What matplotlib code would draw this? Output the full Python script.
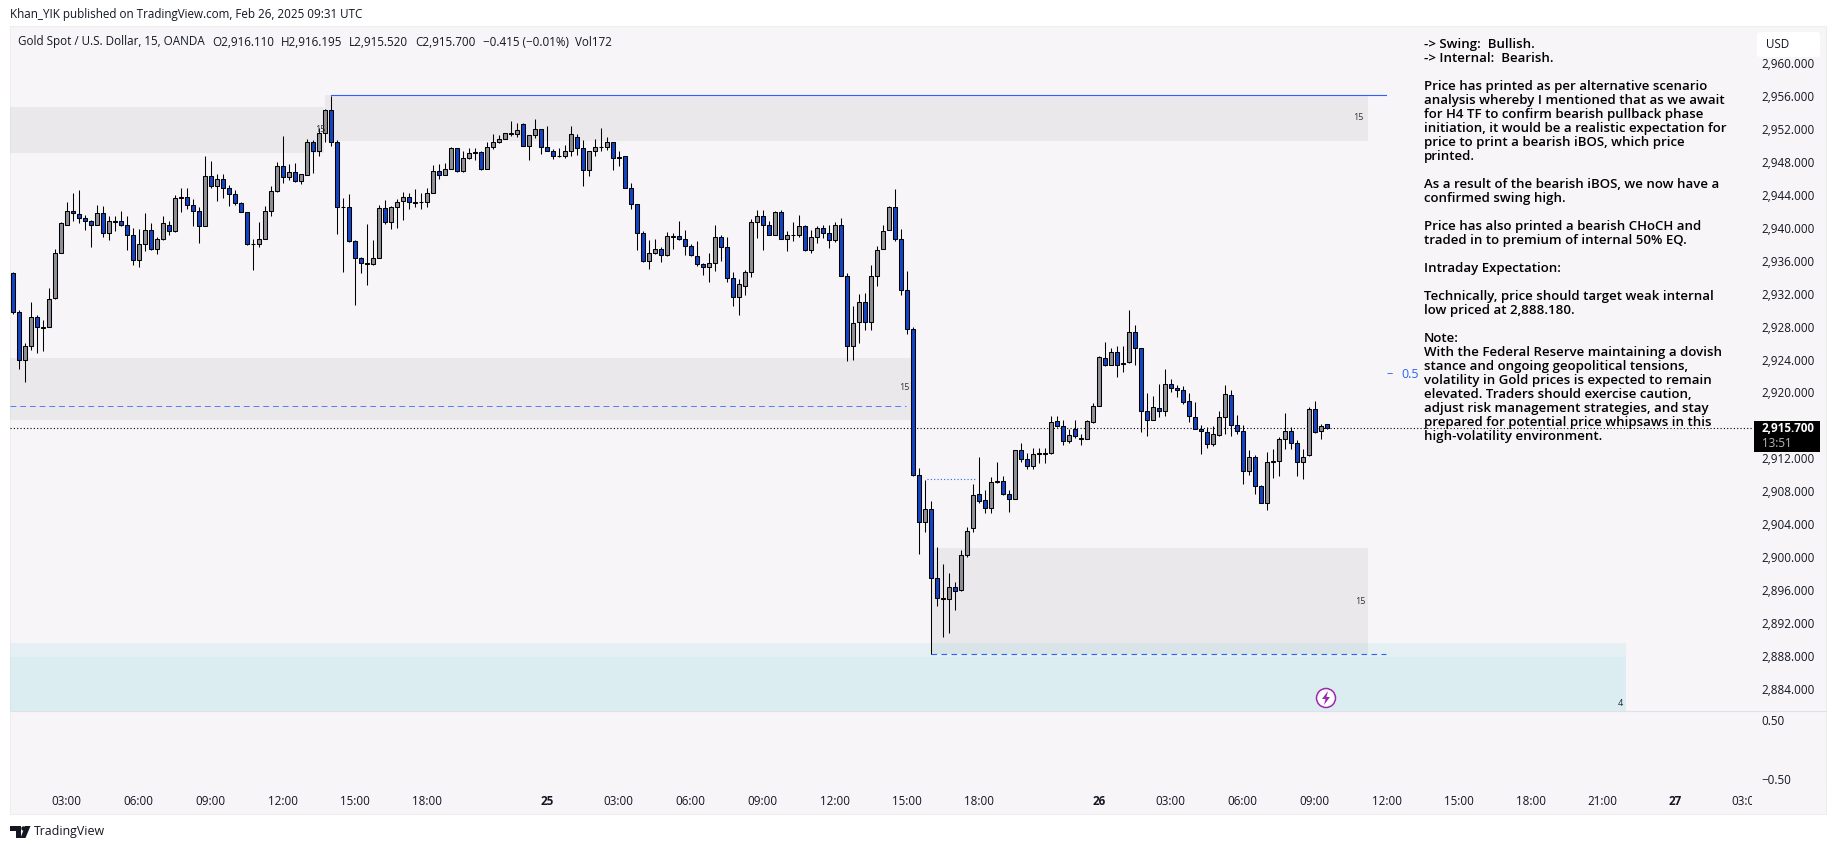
import matplotlib
matplotlib.use("Agg")
import matplotlib.pyplot as plt
from matplotlib.patches import Rectangle, FancyBboxPatch, Circle, Polygon
from matplotlib.transforms import Affine2D
import numpy as np

W, H = 1835, 849

opens = [
    2934.5,2929.8,2923.9,2925.6,2929.2,2927.8,2928.0,2931.5,2937.0,2940.4,
    2942.1,2941.7,2941.2,2940.9,2940.3,2941.8,2939.4,2940.8,2940.8,2940.4,
    2939.1,2936.1,2938.0,2939.8,2937.4,2938.6,2940.4,2939.6,2943.6,2943.8,
    2942.8,2942.1,2940.2,2946.3,2945.1,2946.0,2944.8,2944.1,2943.0,2941.9,
    2938.1,2938.1,2938.6,2942.1,2944.5,2947.5,2946.2,2946.8,2945.7,2946.4,
    2950.4,2949.4,2951.6,2954.3,2950.5,2942.6,2942.5,2938.4,2936.3,2935.7,
    2935.6,2936.3,2942.4,2940.7,2942.5,2943.3,2943.8,2943.2,2943.1,2943.1,
    2944.3,2946.9,2946.4,2947.2,2949.7,2946.9,2948.5,2949.2,2949.2,2947.2,
    2949.8,2950.4,2950.8,2951.5,2951.4,2952.6,2950.0,2951.3,2952.0,2949.9,
    2949.4,2948.7,2948.8,2949.4,2951.0,2949.7,2947.1,2949.3,2949.8,2949.8,
    2950.4,2948.6,2948.7,2944.8,2942.9,2939.4,2936.0,2937.0,2937.5,2936.7,
    2938.95,2939.0,2938.6,2937.8,2936.6,2935.6,2935.3,2935.8,2938.9,2937.7,
    2933.9,2931.6,2933.0,2934.7,2940.7,2941.4,2940.3,2939.1,2942.0,2938.7,
    2939.2,2939.1,2940.2,2937.3,2938.9,2940.0,2939.4,2938.5,2940.4,2934.2,
    2925.7,2928.6,2931.0,2928.6,2934.2,2937.4,2939.7,2942.5,2938.7,2932.5,
    2927.7,2910.0,2904.2,2905.8,2897.4,2895.0,2894.9,2896.3,2896.0,2900.2,
    2903.5,2907.6,2906.9,2905.9,2909.1,2909.2,2907.7,2907.1,2913.0,2911.9,
    2911.1,2912.5,2912.5,2912.6,2916.5,2915.9,2914.1,2915.6,2914.5,2914.3,
    2916.4,2918.4,2924.2,2923.4,2924.9,2923.5,2923.7,2927.4,2925.4,2917.7,
    2916.7,2918.1,2917.7,2921.0,2920.6,2920.3,2919.0,2917.0,2915.6,2915.2,
    2913.7,2914.8,2917.0,2919.7,2916.0,2915.3,2910.5,2912.2,2908.6,2906.6,
    2911.5,2911.7,2914.4,2915.3,2913.9,2911.6,2912.4,2918.0,2915.3,2916.11,
]
closes = [
    2929.8,2923.9,2925.6,2929.2,2927.9,2928.0,2931.4,2936.9,2940.6,2942.1,
    2941.8,2941.2,2940.9,2940.3,2941.8,2939.4,2940.8,2940.7,2940.3,2939.1,
    2936.1,2938.1,2939.8,2937.4,2938.6,2940.6,2939.6,2943.6,2943.8,2942.8,
    2942.1,2940.2,2946.3,2945.1,2946.0,2944.8,2944.1,2943.0,2942.0,2938.0,
    2938.0,2938.6,2942.1,2944.5,2947.5,2946.2,2946.8,2945.7,2946.5,2950.4,
    2949.4,2951.6,2954.3,2950.5,2942.5,2942.5,2938.4,2936.3,2935.7,2935.6,
    2936.3,2942.4,2940.7,2942.5,2943.2,2943.8,2943.2,2943.0,2943.2,2944.3,
    2946.9,2946.4,2947.2,2949.7,2946.9,2948.5,2949.1,2949.1,2947.2,2949.8,
    2950.4,2950.8,2951.5,2951.4,2951.9,2950.0,2951.3,2952.0,2949.9,2949.4,
    2948.7,2948.8,2949.4,2951.4,2949.7,2947.1,2949.3,2949.8,2949.9,2950.4,
    2948.5,2948.5,2944.8,2942.9,2939.4,2936.0,2937.0,2937.5,2936.7,2939.0,
    2939.05,2938.6,2937.8,2936.7,2935.6,2935.3,2935.8,2938.9,2937.7,2933.9,
    2931.6,2933.2,2934.7,2940.7,2941.4,2940.3,2939.1,2941.9,2938.7,2939.2,
    2939.1,2940.2,2937.3,2938.9,2940.0,2939.4,2938.5,2940.4,2934.2,2925.7,
    2928.5,2931.0,2928.6,2934.2,2937.3,2939.6,2942.5,2938.6,2932.5,2927.7,
    2910.0,2904.2,2905.8,2897.4,2895.0,2894.9,2896.3,2895.9,2900.2,2903.2,
    2907.5,2906.8,2905.9,2909.1,2909.3,2907.7,2907.0,2913.0,2911.9,2911.1,
    2912.5,2912.6,2912.6,2916.4,2915.9,2914.1,2914.8,2914.7,2914.3,2916.5,
    2918.4,2924.3,2923.4,2924.9,2923.4,2923.6,2927.4,2925.4,2917.8,2916.7,
    2918.2,2917.7,2921.0,2920.5,2920.3,2918.9,2917.1,2915.6,2915.3,2913.7,
    2914.9,2917.0,2919.8,2916.0,2915.3,2910.5,2912.2,2908.6,2906.6,2911.5,
    2911.7,2914.4,2915.3,2913.9,2911.6,2912.2,2918.0,2915.2,2915.9,2915.70,
]
highs = [
    2934.6,2930.0,2926.0,2931.0,2929.4,2928.8,2932.7,2937.4,2940.7,2943.1,
    2944.2,2944.6,2941.6,2941.0,2942.8,2942.7,2941.5,2941.5,2942.1,2941.4,
    2940.0,2939.9,2941.8,2940.6,2938.9,2941.4,2940.8,2944.0,2944.8,2944.8,
    2943.5,2942.5,2948.8,2948.1,2946.6,2946.6,2945.2,2944.6,2943.1,2941.9,
    2938.7,2940.7,2942.7,2945.1,2948.0,2951.2,2947.8,2947.9,2946.6,2950.8,
    2950.7,2952.2,2954.5,2956.1,2950.7,2943.6,2944.1,2938.5,2936.5,2940.5,
    2938.5,2942.8,2943.4,2942.7,2943.5,2944.4,2944.3,2944.7,2944.3,2944.8,
    2947.7,2947.8,2947.9,2949.9,2949.7,2949.3,2949.7,2949.7,2949.4,2950.5,
    2951.4,2951.3,2951.5,2953.0,2952.8,2952.7,2951.3,2953.2,2952.0,2952.4,
    2949.6,2949.7,2950.1,2952.4,2951.4,2950.7,2949.4,2950.8,2952.2,2951.1,
    2950.4,2949.4,2948.7,2945.5,2942.9,2939.6,2938.5,2938.7,2937.7,2939.5,
    2939.4,2940.9,2939.8,2938.0,2938.4,2935.8,2937.0,2940.4,2939.2,2938.9,
    2934.7,2933.8,2934.9,2941.1,2942.2,2942.2,2940.9,2942.1,2942.2,2939.6,
    2940.7,2941.6,2940.4,2939.8,2940.2,2940.4,2940.4,2940.7,2941.2,2934.5,
    2930.5,2932.0,2932.1,2935.5,2937.8,2940.4,2942.7,2944.7,2939.9,2934.8,
    2927.9,2910.8,2909.4,2906.8,2901.2,2899.1,2898.0,2897.0,2900.9,2903.6,
    2908.9,2912.2,2908.2,2909.7,2911.6,2909.9,2908.1,2913.0,2913.9,2912.7,
    2913.2,2913.2,2913.2,2917.1,2917.1,2916.7,2915.6,2916.7,2915.0,2916.7,
    2918.7,2924.4,2926.1,2925.4,2925.6,2925.7,2930.0,2928.2,2925.4,2919.9,
    2919.6,2921.0,2922.9,2921.6,2920.9,2920.8,2919.9,2918.8,2916.0,2915.8,
    2915.9,2917.7,2920.9,2920.3,2917.3,2916.1,2913.0,2912.4,2908.7,2912.8,
    2913.1,2914.6,2917.5,2915.8,2914.2,2913.1,2918.2,2919.0,2916.2,2916.195,
]
lows = [
    2929.6,2922.9,2921.3,2925.2,2924.8,2925.0,2928.0,2931.4,2936.9,2940.3,
    2940.8,2940.6,2939.8,2937.7,2940.3,2938.9,2938.5,2939.6,2940.2,2937.3,
    2935.5,2935.2,2937.2,2937.3,2936.8,2938.5,2939.1,2939.5,2942.0,2942.3,
    2940.2,2938.2,2940.2,2944.8,2943.3,2943.6,2942.7,2942.8,2941.9,2937.9,
    2934.9,2937.7,2938.6,2941.5,2944.4,2945.5,2945.8,2945.6,2945.3,2946.4,
    2946.7,2948.8,2950.5,2950.0,2939.3,2934.7,2938.3,2930.6,2934.5,2933.1,
    2935.5,2936.3,2940.5,2939.9,2940.0,2941.0,2942.3,2942.5,2942.3,2942.6,
    2944.3,2946.0,2946.4,2947.2,2946.8,2946.8,2948.4,2948.2,2947.0,2947.2,
    2949.6,2950.3,2950.8,2951.2,2951.1,2950.0,2948.2,2950.9,2949.0,2949.4,
    2948.4,2948.6,2948.5,2948.7,2948.9,2945.1,2946.3,2948.8,2949.4,2949.5,
    2947.0,2947.5,2944.8,2942.3,2937.3,2935.9,2935.0,2936.8,2935.9,2936.6,
    2937.4,2938.5,2936.7,2936.6,2935.4,2934.3,2933.4,2934.8,2936.0,2933.4,
    2930.5,2929.4,2931.9,2934.0,2938.8,2937.3,2939.1,2939.1,2938.7,2937.2,
    2938.4,2938.9,2937.2,2937.0,2938.2,2938.8,2937.6,2938.3,2934.2,2923.8,
    2924.0,2926.0,2927.6,2927.6,2933.0,2937.4,2939.7,2938.4,2931.9,2927.1,
    2909.9,2900.4,2903.0,2888.18,2894.0,2890.3,2890.8,2893.6,2895.9,2900.0,
    2903.0,2906.6,2905.4,2905.4,2909.0,2907.5,2905.5,2907.1,2911.5,2910.7,
    2910.7,2911.4,2911.4,2912.5,2915.8,2913.6,2913.8,2914.5,2913.6,2914.3,
    2916.3,2918.4,2923.2,2923.4,2921.9,2922.5,2923.6,2923.4,2915.2,2914.7,
    2916.7,2917.0,2917.1,2920.0,2919.5,2918.6,2916.4,2915.5,2912.5,2913.3,
    2913.5,2914.7,2915.0,2914.7,2914.9,2908.9,2910.0,2907.6,2906.6,2905.7,
    2909.6,2909.9,2913.1,2913.1,2909.9,2909.5,2912.3,2915.1,2914.4,2915.52,
]

# zones: start bar, end bar, top price, bottom price
gray_zones = [
    (-0.45, 51.9, 2954.74, 2949.1),
    (52.0, 225.9, 2956.14, 2950.6),
    (-0.45, 149.7, 2924.2, 2916.7),
    (153.0, 225.9, 2901.1, 2888.18),
]
teal_zones = [
    (-0.45, 268.9, 2889.55, 2881.28, 0.07),
    (-0.45, 268.9, 2887.8, 2881.28, 0.04),
]
price_ticks = list(range(2884, 2964, 4))
time_pos = [9, 21, 33, 45, 57, 69, 89, 101, 113, 125, 137, 149, 161, 181, 193, 205, 217, 229, 241, 253, 265, 277, 289]
time_labels = ["03:00", "06:00", "09:00", "12:00", "15:00", "18:00", "25", "03:00", "06:00", "09:00", "12:00", "15:00",
               "18:00", "26", "03:00", "06:00", "09:00", "12:00", "15:00", "18:00", "21:00", "27", "03:00"]
note_lines = [
    "-> Swing:  Bullish.",
    "-> Internal:  Bearish.",
    "",
    "Price has printed as per alternative scenario",
    "analysis whereby I mentioned that as we await",
    "for H4 TF to confirm bearish pullback phase",
    "initiation, it would be a realistic expectation for",
    "price to print a bearish iBOS, which price",
    "printed.",
    "",
    "As a result of the bearish iBOS, we now have a",
    "confirmed swing high.",
    "",
    "Price has also printed a bearish CHoCH and",
    "traded in to premium of internal 50% EQ.",
    "",
    "Intraday Expectation:",
    "",
    "Technically, price should target weak internal",
    "low priced at 2,888.180.",
    "",
    "Note:",
    "With the Federal Reserve maintaining a dovish",
    "stance and ongoing geopolitical tensions,",
    "volatility in Gold prices is expected to remain",
    "elevated. Traders should exercise caution,",
    "adjust risk management strategies, and stay",
    "prepared for potential price whipsaws in this",
    "high-volatility environment.",
]

BG = "#f7f5f7"
BLUE = "#1344c4"
GRAY = "#8f9096"
LINE = "#2962ff"
FONT = "Open Sans"
plt.rcParams["font.family"] = FONT

fig = plt.figure(figsize=(W / 100, H / 100), dpi=100, facecolor="white")
px = Affine2D().scale(1 / W, -1 / H).translate(0, 1) + fig.transFigure

# panel behind both panes
fig.add_artist(Rectangle((10, 26), 1816, 788, transform=px, fc=BG, ec="#eeeeee", lw=0.8, zorder=-1))

ax = fig.add_axes([10 / W, (H - 711) / H, 1742 / W, 685 / H], facecolor="none")
ax2 = fig.add_axes([10 / W, (H - 785) / H, 1742 / W, 74 / H], facecolor="none")

x = np.arange(len(opens))
o, h, l, c = map(np.array, (opens, highs, lows, closes))
up = c >= o

for x0, x1, top, bot in gray_zones:
    ax.add_patch(Rectangle((x0, bot), x1 - x0, top - bot, fc="#787b86", ec="none", alpha=0.1, zorder=1))
for x0, x1, top, bot, a in teal_zones:
    ax.add_patch(Rectangle((x0, bot), x1 - x0, top - bot, fc="#00bcd4", ec="none", alpha=a, zorder=1))

# structure lines
ax.plot([53, 228.9], [2956.14, 2956.14], color=LINE, lw=0.8, zorder=2)
ax.plot([153, 228.9], [2888.18, 2888.18], color=LINE, lw=0.8, ls=(0, (5, 4)), zorder=2)
ax.plot([-0.45, 148.9], [2918.4, 2918.4], color=LINE, lw=0.7, ls=(0, (6, 4)), alpha=0.8, zorder=2)
ax.plot([152.3, 160.7], [2909.44, 2909.44], color=LINE, lw=0.8, ls=(0, (1, 2)), zorder=2)
ax.axhline(closes[-1], color="black", lw=0.8, ls=(0, (1, 2)), zorder=2)

# candles
ax.vlines(x, l, h, color="black", lw=0.75, zorder=3)
ax.bar(x, np.abs(c - o), bottom=np.minimum(o, c), width=0.66, color=np.where(up, GRAY, BLUE),
       edgecolor="black", linewidth=0.75, zorder=4)

ax.set_xlim(-0.45, 289.88)
ax.set_ylim(2881.28, 2964.55)
ax2.set_xlim(-0.45, 289.88)
ax2.set_ylim(-0.6, 0.643)

for a in (ax, ax2):
    for s in a.spines.values():
        s.set_visible(False)
    a.yaxis.tick_right()
    a.tick_params(length=0, labelcolor="#131722", labelsize=8.4, pad=7)

ax.set_xticks([])
ax.set_yticks(price_ticks)
ax.set_yticklabels([f"{v:,.3f}" for v in price_ticks])
for t in ax.get_yticklabels():
    t.set_ha("left")

ax2.set_yticks([0.5, -0.5])
ax2.set_yticklabels(["0.50", "\u22120.50"])
ax2.set_xticks(time_pos)
ax2.set_xticklabels(time_labels, fontsize=8.4, color="#131722")
ax2.tick_params(axis="x", pad=7)
for t in ax2.get_xticklabels():
    if len(t.get_text()) == 2:
        t.set_fontweight("bold")

# small labels on the zones
for tx, ty in [(320, 129), (1358, 118), (904, 388), (1360, 602)]:
    fig.text(tx / W, 1 - ty / H, "15", fontsize=6.5, color="#333333", ha="center", va="center")
fig.text(1620 / W, 1 - 703 / H, "4", fontsize=6.5, color="#222222", ha="center", va="center")

# divider between panes
fig.add_artist(plt.Line2D([10, 1826], [711, 711], transform=px, color="#e0e0ec", lw=0.8))

# cover the clipped time label past the price scale
fig.add_artist(Rectangle((1752, 786), 74, 27, transform=px, fc=BG, ec="none", zorder=2))

# header texts
fig.text(10 / W, 1 - 14.5 / H, "Khan_YIK published on TradingView.com, Feb 26, 2025 09:31 UTC",
         fontsize=8.4, color="#131722", va="center")
legend_x = [17.7, 212.7, 281, 349, 415, 482.7, 575]
legend_txt = ["Gold Spot / U.S. Dollar, 15, OANDA", "O2,916.110", "H2,916.195", "L2,915.520", "C2,915.700",
              "\u22120.415 (\u22120.01%)", "Vol172"]
for lx, lt in zip(legend_x, legend_txt):
    fig.text(lx / W, 1 - 42 / H, lt, fontsize=8.4, color="#131722", va="center")

# analysis note
for n, line in enumerate(note_lines):
    fig.text(1424 / W, 1 - (44.8 + 14 * n) / H, line, fontsize=9.55, fontweight="semibold", color="black", va="center", zorder=6)

fig.text(1386 / W, 1 - 374 / H, "\u2013", fontsize=9, color=LINE, va="center")
fig.text(1401 / W, 1 - 374.5 / H, "0.5", fontsize=9, color=LINE, va="center")

# USD box
fig.add_artist(FancyBboxPatch((1759, 34), 59, 21, boxstyle="round,pad=2,rounding_size=3", transform=px,
                              fc="white", ec="none", zorder=4))
fig.text(1766 / W, 1 - 44.5 / H, "USD", fontsize=8.4, color="#131722", va="center", zorder=5)

# last price tag
fig.add_artist(Rectangle((1754, 421), 66, 31, transform=px, fc="black", ec="none", zorder=4))
fig.text(1762 / W, 1 - 428.5 / H, "2,915.700", fontsize=8.4, color="white", fontweight="bold", va="center", zorder=5)
fig.text(1762 / W, 1 - 443 / H, "13:51", fontsize=8.4, color="#b8b8b8", va="center", zorder=5)

# alert icon
fig.add_artist(Circle((1326, 698), 9.5, transform=px, fc="white", ec="#9c27b0", lw=1.1, zorder=4))
fig.add_artist(Polygon([(1328, 691), (1322, 699), (1325.5, 699), (1324, 705), (1330, 697), (1326.5, 697)],
                       closed=True, transform=px, fc="#9c27b0", ec="none", zorder=5))

# TradingView logo
fig.add_artist(Polygon([(10, 826), (21, 826), (21, 838), (16, 838), (16, 831), (10, 831)], closed=True, transform=px,
                       fc="#131722", ec="none", zorder=5))
fig.add_artist(Circle((23.5, 828.5), 2.2, transform=px, fc="#131722", ec="none", zorder=5))
fig.add_artist(Polygon([(25, 826), (30.5, 826), (25.5, 838), (20.5, 838)], closed=True, transform=px,
                       fc="#131722", ec="none", zorder=5))
fig.text(34 / W, 1 - 831.5 / H, "TradingView", fontsize=8.9, color="#131722", va="center")

fig.savefig("out.png", dpi=100, facecolor="white")
